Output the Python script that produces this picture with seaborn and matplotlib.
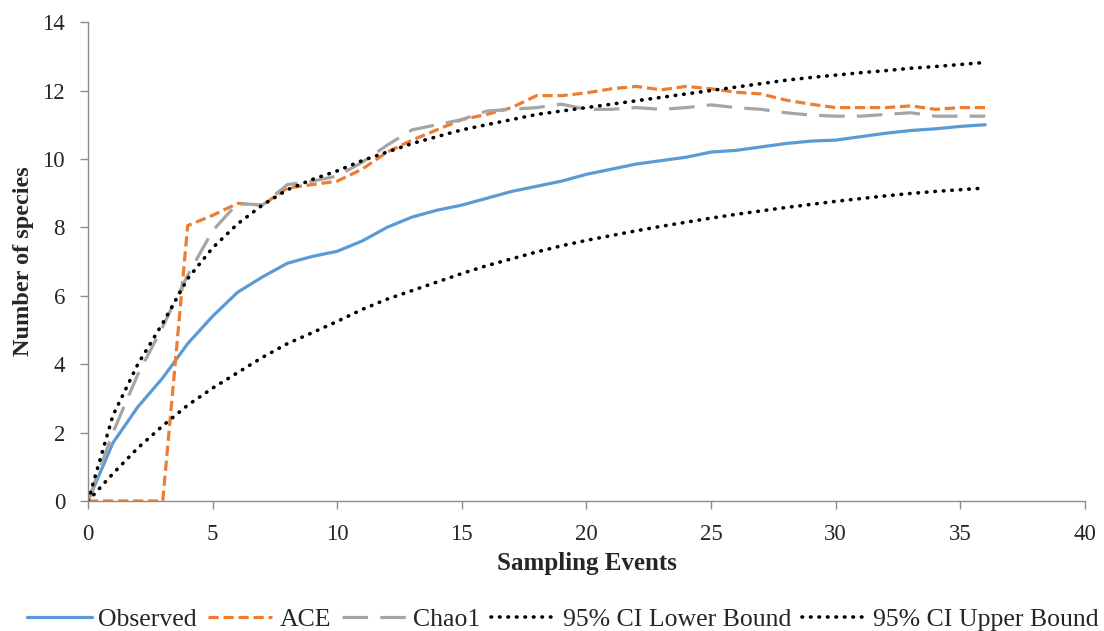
import numpy as np
import pandas as pd
import matplotlib
matplotlib.use("Agg")
import matplotlib.pyplot as plt
import seaborn as sns

# Species accumulation across sampling events
events = list(range(0, 37))

observed = [0, 1.7, 2.75, 3.6, 4.6, 5.4, 6.1, 6.55, 6.95, 7.15, 7.3, 7.6, 8.0, 8.3,
            8.5, 8.65, 8.85, 9.05, 9.2, 9.35, 9.55, 9.7, 9.85, 9.95, 10.05, 10.2,
            10.25, 10.35, 10.45, 10.52, 10.55, 10.65, 10.75, 10.83, 10.88, 10.95, 11.0]

ace = [0, 0, 0, 0, 8.05, 8.35, 8.7, 8.65, 9.15, 9.25, 9.35, 9.7, 10.2, 10.55,
       10.85, 11.15, 11.3, 11.5, 11.85, 11.85, 11.93, 12.05, 12.12, 12.02, 12.12,
       12.05, 11.95, 11.9, 11.72, 11.6, 11.5, 11.5, 11.5, 11.55, 11.45, 11.5, 11.5]

chao1 = [0, 2.0, 3.7, 5.1, 6.6, 7.9, 8.7, 8.65, 9.25, 9.35, 9.5, 9.9, 10.4, 10.85,
         11.0, 11.15, 11.4, 11.45, 11.5, 11.6, 11.45, 11.45, 11.5, 11.45, 11.5,
         11.58, 11.5, 11.45, 11.35, 11.28, 11.25, 11.25, 11.3, 11.35, 11.25, 11.25, 11.25]

ci_lower = [0, 0.8, 1.55, 2.2, 2.8, 3.3, 3.75, 4.2, 4.6, 4.92, 5.25, 5.6, 5.9, 6.15,
            6.4, 6.65, 6.88, 7.08, 7.28, 7.46, 7.62, 7.76, 7.9, 8.03, 8.15, 8.27,
            8.38, 8.48, 8.58, 8.67, 8.76, 8.84, 8.92, 8.99, 9.05, 9.1, 9.15]

ci_upper = [0, 2.5, 4.0, 5.2, 6.5, 7.4, 8.1, 8.65, 9.1, 9.4, 9.65, 9.95, 10.2, 10.45,
            10.65, 10.85, 11.0, 11.15, 11.3, 11.4, 11.5, 11.6, 11.7, 11.8, 11.9,
            12.0, 12.1, 12.2, 12.3, 12.38, 12.45, 12.52, 12.58, 12.65, 12.7, 12.76, 12.82]

x_ticks = [0, 5, 10, 15, 20, 25, 30, 35, 40]
y_ticks = [0, 2, 4, 6, 8, 10, 12, 14]

sns.set_style("white")
plt.rcParams["font.family"] = ["Liberation Serif", "DejaVu Serif"]

fig = plt.figure(figsize=(11.04, 6.31), dpi=100)
ax = fig.add_axes([0.0797, 0.206, 0.903, 0.759])

LW = 2.3
series = [
    ("Observed", observed, "#5B9BD5", None),
    ("ACE", ace, "#ED7D31", (3.2, 1.5)),
    ("Chao1", chao1, "#A5A5A5", (8, 3.8)),
    ("95% CI Lower Bound", ci_lower, "#000000", (0.15, 2.2)),
    ("95% CI Upper Bound", ci_upper, "#000000", (0.15, 2.2)),
]

for name, vals, col, dash in series:
    df = pd.DataFrame({"Sampling Events": events, "Number of species": vals})
    sns.lineplot(data=df, x="Sampling Events", y="Number of species", ax=ax,
                 color=col, linewidth=LW, label=name, legend=False)
    ln = ax.get_lines()[-1]
    if dash is not None:
        ln.set_dashes(dash)
        if col == "#000000":
            ln.set_dash_capstyle("round")
            ln.set_linewidth(2.6)

ax.set_xlim(0, 40)
ax.set_ylim(0, 14)
ax.set_xticks(x_ticks)
ax.set_yticks(y_ticks)
ax.tick_params(axis="both", direction="out", length=6, width=1, color="#8c8c8c",
               labelsize=16.5, pad=10.5, left=True, bottom=True)
for side in ["top", "right"]:
    ax.spines[side].set_visible(False)
for side in ["left", "bottom"]:
    ax.spines[side].set_color("#8c8c8c")
    ax.spines[side].set_linewidth(1)

ax.set_xlabel("Sampling Events", fontsize=18, fontweight="bold", labelpad=5)
ax.set_ylabel("Number of species", fontsize=17.5, fontweight="bold", labelpad=6)

handles, labels = ax.get_legend_handles_labels()
fig.legend(handles, labels, loc="lower center", bbox_to_anchor=(0.51, -0.037), ncol=5,
           frameon=False, fontsize=18.5, handlelength=2.5, handletextpad=0.27,
           columnspacing=0.43)

fig.savefig("out.png", dpi=100)
